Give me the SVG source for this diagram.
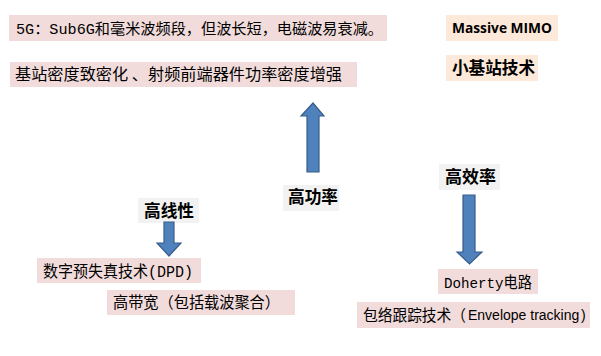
<svg xmlns="http://www.w3.org/2000/svg" width="601" height="356" viewBox="0 0 601 356">
<style>
.pink{fill:#f2dcdb}
.peach{fill:#fde9d9}
.gray{fill:#f2f2f2}
.t{font-family:"Noto Sans CJK SC","Liberation Sans",sans-serif;fill:#000}
.m{font-family:"Liberation Mono","Noto Sans CJK SC",monospace;fill:#000}
.l{font-family:"Liberation Sans",sans-serif;fill:#000}
.b{font-family:"Noto Sans CJK SC","Liberation Sans",sans-serif;font-weight:bold;fill:#000}
.arrow{fill:#4f81bd;stroke:#385d8a;stroke-width:1.2}
</style>
<rect width="601" height="356" fill="#fff"/>
<g id="n-5g">
<rect class="pink" x="9" y="15" width="378" height="26"/>
<text class="m" x="16" y="34" font-size="15" textLength="367" lengthAdjust="spacingAndGlyphs">5G：Sub6G和毫米波频段，但波长短，电磁波易衰减。</text>
</g>
<g id="n-density">
<rect class="pink" x="10" y="62" width="347" height="25"/>
<text class="t" x="15" y="80" font-size="15.5" textLength="327" lengthAdjust="spacingAndGlyphs">基站密度致密化 、射频前端器件功率密度增强</text>
</g>
<g id="n-mimo">
<rect class="peach" x="446" y="15" width="112" height="26"/>
<text class="b" x="452" y="33" font-size="15" textLength="100" lengthAdjust="spacingAndGlyphs" style="font-family:'Open Sans','Liberation Sans',sans-serif">Massive MIMO</text>
</g>
<g id="n-small">
<rect class="peach" x="446" y="55" width="92" height="26"/>
<text class="b" x="452" y="74" font-size="17" textLength="83" lengthAdjust="spacingAndGlyphs">小基站技术</text>
</g>
<g id="n-linear">
<rect class="gray" x="138" y="198" width="61" height="25"/>
<text class="b" x="144" y="217" font-size="17" textLength="50" lengthAdjust="spacingAndGlyphs">高线性</text>
</g>
<g id="n-power">
<rect class="gray" x="283" y="185" width="56" height="26"/>
<text class="b" x="288" y="203" font-size="17" textLength="50" lengthAdjust="spacingAndGlyphs">高功率</text>
</g>
<g id="n-eff">
<rect class="gray" x="439" y="164" width="61" height="26"/>
<text class="b" x="445" y="183" font-size="17" textLength="51" lengthAdjust="spacingAndGlyphs">高效率</text>
</g>
<g id="n-dpd">
<rect class="pink" x="37" y="258" width="164" height="25"/>
<text class="m" x="43" y="277" font-size="16" textLength="150" lengthAdjust="spacingAndGlyphs">数字预失真技术(DPD)</text>
</g>
<g id="n-bw">
<rect class="pink" x="107" y="290" width="188" height="25"/>
<text class="t" x="113" y="308" font-size="15.5" textLength="167" lengthAdjust="spacingAndGlyphs">高带宽（包括载波聚合）</text>
</g>
<g id="n-doherty">
<rect class="pink" x="438" y="269" width="100" height="25"/>
<text class="m" x="444" y="288" font-size="15.5" textLength="88" lengthAdjust="spacingAndGlyphs">Doherty电路</text>
</g>
<g id="n-et">
<rect class="pink" x="357" y="302" width="233" height="26"/>
<text class="t" x="363" y="321" font-size="15.5" textLength="103" lengthAdjust="spacingAndGlyphs">包络跟踪技术（</text>
<text class="l" x="468" y="320" font-size="14">Envelope tracking</text>
<text class="l" x="581" y="320" font-size="14">)</text>
</g>
<g id="connectors">
<polygon class="arrow" points="313,103 324,116 319,116 319,172 307,172 307,116 301,116"/>
<polygon class="arrow" points="164,222 174,222 174,243 181,243 169,256 157,243 164,243"/>
<polygon class="arrow" points="463,195 475,195 475,252 482,252 469.5,264 457,252 463,252"/>
</g>
</svg>
